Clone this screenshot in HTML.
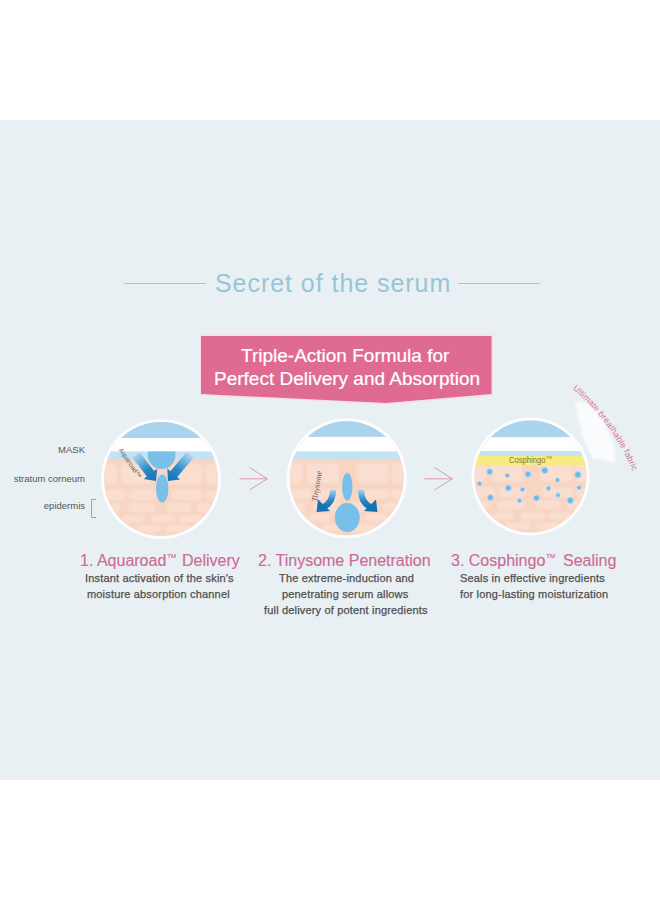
<!DOCTYPE html>
<html><head><meta charset="utf-8">
<style>
html,body{margin:0;padding:0;}
body{width:660px;height:900px;background:#fff;position:relative;overflow:hidden;font-family:"Liberation Sans",sans-serif;}
.band{position:absolute;left:0;top:120px;width:660px;height:660px;background:#e9f0f4;}
.t{position:absolute;white-space:nowrap;line-height:1;}
#title{left:215px;top:271px;font-size:25px;color:#98c5d4;letter-spacing:0.95px;}
.hl{position:absolute;height:1px;background:#a6c5d2;top:283px;}
#banner{position:absolute;left:0;top:0;}
.bt{color:#fff;font-size:19px;-webkit-text-stroke:0.2px #fff;}
.lab{color:#555;font-size:9.5px;}
.st{color:#cd6a97;font-size:16px;-webkit-text-stroke:0.15px #cd6a97;}
.tm{font-size:6px;vertical-align:8px;margin-left:1px;}
.ds{color:#4f4f4f;font-size:11px;letter-spacing:0.17px;-webkit-text-stroke:0.25px #4f4f4f;}
</style></head>
<body>
<div class="band"></div>
<div class="hl" style="left:124px;width:82px"></div>
<div class="hl" style="left:458px;width:82px"></div>
<div class="t" id="title">Secret of the serum</div>

<svg id="banner" width="660" height="900" viewBox="0 0 660 900">
  <polygon points="201,336 491.5,336 491.5,394 386,403 201,394" fill="none" stroke="#f4e0e8" stroke-width="3"/>
  <polygon points="201,336 491.5,336 491.5,394 386,403 201,394" fill="#df6b93"/>
</svg>
<div class="t bt" style="left:241px;top:346px">Triple-Action Formula for</div>
<div class="t bt" style="left:214px;top:368.5px">Perfect Delivery and Absorption</div>

<svg class="ov" width="660" height="900" viewBox="0 0 660 900" style="position:absolute;left:0;top:0"><defs><linearGradient id="gL" x1="137" y1="455" x2="157" y2="481" gradientUnits="userSpaceOnUse"><stop offset="0" stop-color="#a4d2ef"/><stop offset="0.55" stop-color="#2a88c8"/><stop offset="1" stop-color="#1272b3"/></linearGradient><linearGradient id="gR" x1="189" y1="455" x2="168" y2="481" gradientUnits="userSpaceOnUse"><stop offset="0" stop-color="#a4d2ef"/><stop offset="0.55" stop-color="#2a88c8"/><stop offset="1" stop-color="#1272b3"/></linearGradient><linearGradient id="g2L" x1="0" y1="0" x2="0" y2="1"><stop offset="0" stop-color="#a4d2ef"/><stop offset="0.6" stop-color="#2a88c8"/><stop offset="1" stop-color="#1272b3"/></linearGradient><filter id="blur1" x="-10%" y="-10%" width="120%" height="120%"><feGaussianBlur stdDeviation="1.1"/></filter></defs><clipPath id="c1"><circle cx="161" cy="479" r="57"/></clipPath><circle cx="161" cy="479" r="60" fill="#fcfdfe"/><g clip-path="url(#c1)"><rect x="101" y="419" width="120" height="120" fill="#f8d5c2"/><g filter="url(#blur1)"><rect x="103.0" y="464.0" width="14.0" height="20.0" rx="5.0" fill="#fadfd1"/><rect x="121.0" y="464.0" width="32.0" height="20.0" rx="5.0" fill="#fadfd1"/><rect x="171.0" y="464.0" width="32.0" height="20.0" rx="5.0" fill="#fadfd1"/><rect x="206.0" y="464.0" width="13.0" height="20.0" rx="5.0" fill="#fadfd1"/><rect x="105.0" y="490.0" width="21.0" height="10.0" rx="5.0" fill="#fadfd1"/><rect x="129.0" y="490.0" width="28.0" height="10.0" rx="5.0" fill="#fadfd1"/><rect x="172.0" y="490.0" width="31.0" height="10.0" rx="5.0" fill="#fadfd1"/><rect x="206.0" y="490.0" width="11.0" height="10.0" rx="5.0" fill="#fadfd1"/><rect x="111.0" y="503.0" width="9.0" height="9.0" rx="4.5" fill="#fadfd1"/><rect x="128.0" y="503.0" width="27.0" height="9.0" rx="4.5" fill="#fadfd1"/><rect x="166.0" y="503.0" width="25.0" height="9.0" rx="4.5" fill="#fadfd1"/><rect x="197.0" y="503.0" width="14.0" height="9.0" rx="4.5" fill="#fadfd1"/><rect x="123.0" y="515.0" width="21.0" height="7.0" rx="3.5" fill="#fadfd1"/><rect x="151.0" y="515.0" width="24.0" height="7.0" rx="3.5" fill="#fadfd1"/><rect x="179.0" y="515.0" width="23.0" height="7.0" rx="3.5" fill="#fadfd1"/><rect x="136.0" y="525.0" width="25.0" height="7.0" rx="3.5" fill="#fadfd1"/><rect x="166.0" y="525.0" width="25.0" height="7.0" rx="3.5" fill="#fadfd1"/></g><rect x="101" y="419" width="120" height="19.0" fill="#a9d4ef"/><rect x="101" y="438.0" width="120" height="13.6" fill="#ffffff"/><rect x="101" y="451.6" width="120" height="7.7" fill="#c3e2f3"/><path d="M147.8,451.6 L147.8,455 A13.85,14 0 0 0 175.5,455 L175.5,451.6 Z" fill="#78bfea"/><ellipse cx="162.2" cy="488.5" rx="6.2" ry="14" fill="#78bfea"/><polygon points="132.4,457.7 146.9,476.6 143.8,479.0 156.0,481.0 157.2,468.7 154.1,471.1 139.6,452.3" fill="url(#gL)"/><polygon points="186.6,452.1 170.4,471.2 167.3,468.6 168.0,481.0 180.3,479.6 177.2,477.0 193.4,457.9" fill="url(#gR)"/><text x="0" y="0" transform="translate(118.5,450) rotate(56)" font-size="6.5" fill="#6a5a55" font-family="Liberation Sans">Aquaroad™</text></g><clipPath id="c2"><circle cx="346.7" cy="478.3" r="57"/></clipPath><circle cx="346.7" cy="478.3" r="60" fill="#fcfdfe"/><g clip-path="url(#c2)"><rect x="286" y="418" width="120" height="120" fill="#f8d5c2"/><g filter="url(#blur1)"><rect x="288.7" y="463.3" width="14.0" height="20.0" rx="5.0" fill="#fadfd1"/><rect x="306.7" y="463.3" width="32.0" height="20.0" rx="5.0" fill="#fadfd1"/><rect x="356.7" y="463.3" width="32.0" height="20.0" rx="5.0" fill="#fadfd1"/><rect x="391.7" y="463.3" width="13.0" height="20.0" rx="5.0" fill="#fadfd1"/><rect x="290.7" y="489.3" width="21.0" height="10.0" rx="5.0" fill="#fadfd1"/><rect x="314.7" y="489.3" width="28.0" height="10.0" rx="5.0" fill="#fadfd1"/><rect x="357.7" y="489.3" width="31.0" height="10.0" rx="5.0" fill="#fadfd1"/><rect x="391.7" y="489.3" width="11.0" height="10.0" rx="5.0" fill="#fadfd1"/><rect x="296.7" y="502.3" width="9.0" height="9.0" rx="4.5" fill="#fadfd1"/><rect x="313.7" y="502.3" width="27.0" height="9.0" rx="4.5" fill="#fadfd1"/><rect x="351.7" y="502.3" width="25.0" height="9.0" rx="4.5" fill="#fadfd1"/><rect x="382.7" y="502.3" width="14.0" height="9.0" rx="4.5" fill="#fadfd1"/><rect x="308.7" y="514.3" width="21.0" height="7.0" rx="3.5" fill="#fadfd1"/><rect x="336.7" y="514.3" width="24.0" height="7.0" rx="3.5" fill="#fadfd1"/><rect x="364.7" y="514.3" width="23.0" height="7.0" rx="3.5" fill="#fadfd1"/><rect x="321.7" y="524.3" width="25.0" height="7.0" rx="3.5" fill="#fadfd1"/><rect x="351.7" y="524.3" width="25.0" height="7.0" rx="3.5" fill="#fadfd1"/></g><rect x="286" y="418" width="120" height="18.7" fill="#a9d4ef"/><rect x="286" y="437.0" width="120" height="14.6" fill="#ffffff"/><rect x="286" y="451.6" width="120" height="7.9" fill="#c3e2f3"/><ellipse cx="347.3" cy="486.8" rx="5.2" ry="13.8" fill="#78bfea"/><ellipse cx="347.3" cy="517.5" rx="12.5" ry="14.5" fill="#78bfea"/><path d="M333,490 Q333,502 324,507" stroke="url(#g2L)" stroke-width="6.3" fill="none"/><polygon points="316.5,512 318,499.5 330,511" fill="#1272b3"/><path d="M361,490 Q361,502 370,507" stroke="url(#g2L)" stroke-width="6.3" fill="none"/><polygon points="377.5,512 376,499.5 364,511" fill="#1272b3"/><text x="0" y="0" transform="translate(317,502) rotate(-81)" font-size="8.3" fill="#6a5a55" font-family="Liberation Serif" font-style="italic">Tinysome</text></g><clipPath id="c3"><circle cx="530.5" cy="476.5" r="56"/></clipPath><circle cx="530.5" cy="476.5" r="59" fill="#fcfdfe"/><g clip-path="url(#c3)"><rect x="471" y="417" width="118" height="118" fill="#f8d5c2"/><g filter="url(#blur1)"><rect x="472.5" y="461.5" width="14.0" height="20.0" rx="5.0" fill="#fadfd1"/><rect x="490.5" y="461.5" width="32.0" height="20.0" rx="5.0" fill="#fadfd1"/><rect x="540.5" y="461.5" width="32.0" height="20.0" rx="5.0" fill="#fadfd1"/><rect x="575.5" y="461.5" width="13.0" height="20.0" rx="5.0" fill="#fadfd1"/><rect x="474.5" y="487.5" width="21.0" height="10.0" rx="5.0" fill="#fadfd1"/><rect x="498.5" y="487.5" width="28.0" height="10.0" rx="5.0" fill="#fadfd1"/><rect x="541.5" y="487.5" width="31.0" height="10.0" rx="5.0" fill="#fadfd1"/><rect x="575.5" y="487.5" width="11.0" height="10.0" rx="5.0" fill="#fadfd1"/><rect x="480.5" y="500.5" width="9.0" height="9.0" rx="4.5" fill="#fadfd1"/><rect x="497.5" y="500.5" width="27.0" height="9.0" rx="4.5" fill="#fadfd1"/><rect x="535.5" y="500.5" width="25.0" height="9.0" rx="4.5" fill="#fadfd1"/><rect x="566.5" y="500.5" width="14.0" height="9.0" rx="4.5" fill="#fadfd1"/><rect x="492.5" y="512.5" width="21.0" height="7.0" rx="3.5" fill="#fadfd1"/><rect x="520.5" y="512.5" width="24.0" height="7.0" rx="3.5" fill="#fadfd1"/><rect x="548.5" y="512.5" width="23.0" height="7.0" rx="3.5" fill="#fadfd1"/><rect x="505.5" y="522.5" width="25.0" height="7.0" rx="3.5" fill="#fadfd1"/><rect x="535.5" y="522.5" width="25.0" height="7.0" rx="3.5" fill="#fadfd1"/></g><rect x="471" y="417" width="118" height="19.8" fill="#a9d4ef"/><rect x="471" y="437.3" width="118" height="13.7" fill="#ffffff"/><rect x="471" y="451.0" width="118" height="4.5" fill="#c3e2f3"/><rect x="470" y="455.5" width="122" height="10" fill="#f7eb80"/><text x="509" y="462.8" font-size="8.2" fill="#857530" font-family="Liberation Sans" textLength="36.5" lengthAdjust="spacingAndGlyphs">Cosphingo</text><text x="546" y="459" font-size="4" fill="#857530" font-family="Liberation Sans">TM</text><circle cx="489.8" cy="471.8" r="3.0" fill="#6fb9e6" stroke="#b4dcf3" stroke-width="1"/><circle cx="507.3" cy="475.4" r="2.2" fill="#6fb9e6" stroke="#b4dcf3" stroke-width="1"/><circle cx="528.0" cy="474.2" r="3.0" fill="#6fb9e6" stroke="#b4dcf3" stroke-width="1"/><circle cx="544.8" cy="470.4" r="3.2" fill="#6fb9e6" stroke="#b4dcf3" stroke-width="1"/><circle cx="577.9" cy="474.8" r="3.2" fill="#6fb9e6" stroke="#b4dcf3" stroke-width="1"/><circle cx="479.6" cy="483.7" r="2.2" fill="#6fb9e6" stroke="#b4dcf3" stroke-width="1"/><circle cx="557.5" cy="480.0" r="2.2" fill="#6fb9e6" stroke="#b4dcf3" stroke-width="1"/><circle cx="508.3" cy="488.0" r="3.0" fill="#6fb9e6" stroke="#b4dcf3" stroke-width="1"/><circle cx="522.4" cy="489.4" r="2.2" fill="#6fb9e6" stroke="#b4dcf3" stroke-width="1"/><circle cx="548.4" cy="488.4" r="2.2" fill="#6fb9e6" stroke="#b4dcf3" stroke-width="1"/><circle cx="579.0" cy="487.6" r="2.2" fill="#6fb9e6" stroke="#b4dcf3" stroke-width="1"/><circle cx="490.4" cy="497.6" r="3.0" fill="#6fb9e6" stroke="#b4dcf3" stroke-width="1"/><circle cx="519.4" cy="500.6" r="2.2" fill="#6fb9e6" stroke="#b4dcf3" stroke-width="1"/><circle cx="536.5" cy="498.0" r="3.0" fill="#6fb9e6" stroke="#b4dcf3" stroke-width="1"/><circle cx="558.0" cy="495.1" r="2.2" fill="#6fb9e6" stroke="#b4dcf3" stroke-width="1"/><circle cx="570.2" cy="500.4" r="3.2" fill="#6fb9e6" stroke="#b4dcf3" stroke-width="1"/></g><path d="M239.5,478.8 L267.3,478.8 M249.5,467.5 L267.3,478.8 L249.5,490" stroke="#d89ab6" stroke-width="1" fill="none"/><path d="M424.5,478.8 L452.3,478.8 M434.5,467.5 L452.3,478.8 L434.5,490" stroke="#d89ab6" stroke-width="1" fill="none"/><path d="M96,499.5 L91.5,499.5 L91.5,517.5 L96,517.5" stroke="#a3a3a3" stroke-width="1" fill="none"/><path id="farc" d="M572.5,388.9 A212,212 0 0 1 645.3,514.8" fill="none"/><defs><pattern id="hatch" width="3" height="3" patternUnits="userSpaceOnUse" patternTransform="rotate(35)"><rect width="3" height="3" fill="#f6f9fb"/><rect width="1.6" height="3" fill="#ffffff"/><rect width="3" height="0.8" fill="#ffffff"/></pattern></defs><path d="M575.5,402 Q586,401 592,406 Q606,422 614,447 L615.4,462.6 Q600,458 593.5,458.7 Q583,440 580.6,426.5 Z" fill="url(#hatch)" opacity="0.95" filter="url(#blur1)"/><text font-size="8.6" letter-spacing="0.2" fill="#d5769e" font-family="Liberation Sans"><textPath href="#farc">Ultimate breathable fabric</textPath></text></svg>
<div class="t lab" style="right:575px;top:444.5px">MASK</div>
<div class="t lab" style="right:575px;top:474.3px">stratum corneum</div>
<div class="t lab" style="right:575px;top:500.6px">epidermis</div>

<div class="t st" style="left:80px;top:553px">1. Aquaroad<span class="tm">TM</span><span style="margin-left:6px">Delivery</span></div>
<div class="t st" style="left:258px;top:553px">2. Tinysome Penetration</div>
<div class="t st" style="left:451px;top:553px">3. Cosphingo<span class="tm">TM</span><span style="margin-left:8px">Sealing</span></div>
<div class="t ds" style="left:85px;top:573.3px">Instant activation of the skin's</div>
<div class="t ds" style="left:87px;top:589.3px">moisture absorption channel</div>
<div class="t ds" style="left:279px;top:573.3px">The extreme-induction and</div>
<div class="t ds" style="left:282px;top:589.3px">penetrating serum allows</div>
<div class="t ds" style="left:264px;top:604.5px">full delivery of potent ingredients</div>
<div class="t ds" style="left:460px;top:573.3px">Seals in effective ingredients</div>
<div class="t ds" style="left:460px;top:589.3px">for long-lasting moisturization</div>
</body></html>
